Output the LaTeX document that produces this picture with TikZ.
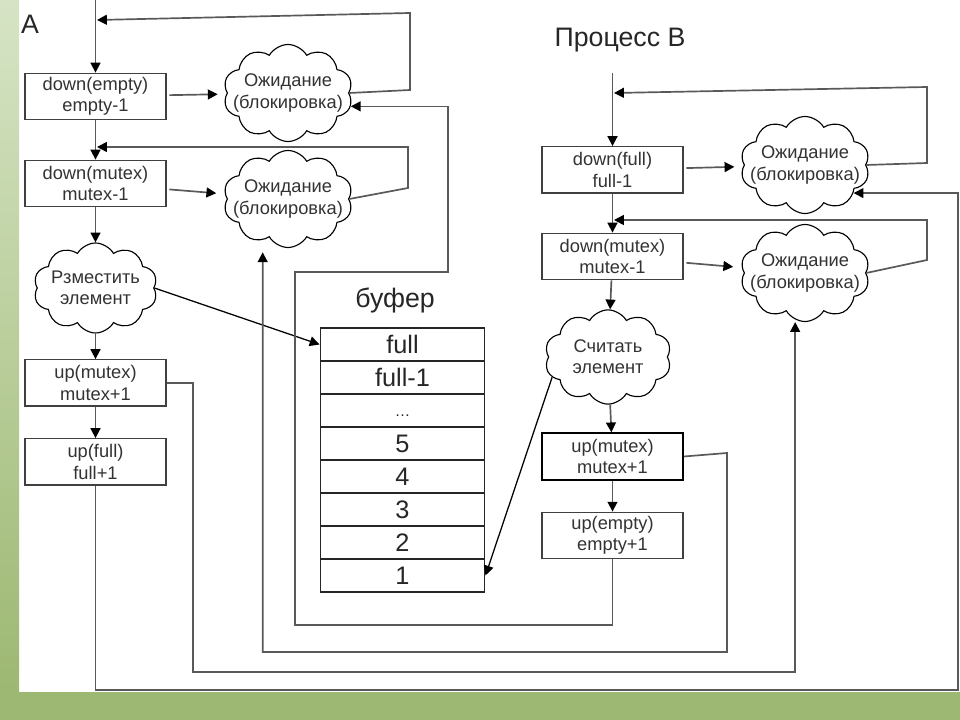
\documentclass[tikz,border=0pt]{standalone}
\usepackage{fontspec}
\setmainfont{Liberation Sans}
\usetikzlibrary{calc, shapes.symbols, arrows.meta}
\definecolor{paleleaf}{HTML}{D6E4C5}
\definecolor{leaf}{HTML}{9DB872}

\begin{document}
\begin{tikzpicture}[x=0.025cm, y=-0.025cm,
  box/.style={draw=black!75, line width=1pt, minimum width=100pt, minimum height=33pt,
    inner sep=1pt, align=center, text=black!80, font=\fontsize{13}{15}\selectfont},
  wait/.style={cloud, cloud puffs=10, cloud puff arc=120, cloud ignores aspect, draw,
    line width=0.8pt, inner xsep=-32pt, inner ysep=-10pt, minimum width=92pt,
    minimum height=69pt, align=center, text=black!80, font=\fontsize{13}{15}\selectfont},
  cell/.style={draw=black!85, line width=1pt, minimum width=117pt, minimum height=23.4pt,
    inner sep=0pt, text=black!85, font=\fontsize{18}{20}\selectfont},
  tip/.style={-{Triangle[length=7pt,width=7pt,color=black]}},
  fb/.style={draw=black!65, line width=1.2pt}]

\useasboundingbox (0,0) rectangle (960,720);
\fill[white] (0,0) rectangle (960,720);
\fill[leaf] (0,692) rectangle (960,720);
\shade[top color=paleleaf, bottom color=leaf] (0,0) rectangle (19,692);

\node[font=\fontsize{19}{21}\selectfont, text=black!85] (hA) at (30,24) {A};
\node[font=\fontsize{19}{21}\selectfont, text=black!85] (hB) at (620,40) {Процесс B};
\node[font=\fontsize{19}{21}\selectfont, text=black!85] (hbuf) at (395,300) {буфер};

% process A
\node[box] (dnE) at (95.5,96.5) {down(empty)\\empty-1};
\node[wait] (waitE) at (288,93) {Ожидание\\(блокировка)};
\node[box] (dnMa) at (95.5,183.5) {down(mutex)\\mutex-1};
\node[wait] (waitMa) at (288,199) {Ожидание\\(блокировка)};
\node[wait, minimum width=88pt, minimum height=64pt] (put) at (95.5,288) {Рзместить\\элемент};
\node[box] (upMa) at (95.5,383) {up(mutex)\\mutex+1};
\node[box] (upF) at (95.5,462) {up(full)\\full+1};

% buffer
\foreach \t [count=\i] in {full, full-1, {\raisebox{-4pt}[0pt][0pt]{\fontsize{11}{11}\selectfont\dots}}, 5, 4, 3, 2, 1}
  \node[cell] (r\i) at (402.5,311.5+33*\i) {\t};

% process B
\node[box] (dnF) at (612.5,170) {down(full)\\full-1};
\node[wait] (waitF) at (805,165) {Ожидание\\(блокировка)};
\node[box] (dnMb) at (612.5,256.5) {down(mutex)\\mutex-1};
\node[wait] (waitMb) at (805,273) {Ожидание\\(блокировка)};
\node[wait, minimum width=90pt, minimum height=67pt] (get) at (608,357) {Считать\\элемент};
\node[box, draw=black, line width=1.4pt] (upMb) at (612.5,456.5) {up(mutex)\\mutex+1};
\node[box] (upE) at (612.5,535.5) {up(empty)\\empty+1};

\coordinate (inA) at (95.5,0);
\coordinate (joinE) at (97,20);
\coordinate (joinMa) at (97,147);
\coordinate (inB) at (612.5,73);
\coordinate (joinF) at (614,93);
\coordinate (joinMb) at (614,220);

\draw[fb, tip] (inA) -- (dnE);
\draw[fb, tip] (dnE) -- (dnMa);
\draw[fb, tip] (dnMa) -- (put);
\draw[fb, tip] (put) -- (upMa);
\draw[fb, tip] (upMa) -- (upF);
\draw[fb, tip, shorten <=2pt, shorten >=6pt] (dnE) -- (waitE);
\draw[fb, tip, shorten <=2pt, shorten >=6pt] (dnMa) -- (waitMa);
\draw[fb, tip] (waitE.east) -- (410,90) -- (410,13) -- (joinE);
\draw[fb, tip] (waitMa.east) -- (408,188) -- (408,147) -- (joinMa);

\draw[fb, tip] (inB) -- (dnF);
\draw[fb, tip] (dnF) -- (dnMb);
\draw[fb, tip] (dnMb) -- (get);
\draw[fb, tip] (get) -- (upMb);
\draw[fb, tip] (upMb) -- (upE);
\draw[fb, tip, shorten <=2pt, shorten >=6pt] (dnF) -- (waitF);
\draw[fb, tip, shorten <=2pt, shorten >=6pt] (dnMb) -- (waitMb);
\draw[fb, tip] (waitF.east) -- (927,163) -- (927,87) -- (joinF);
\draw[fb, tip] (waitMb.east) -- (927,260) -- (927,220) -- (joinMb);

\draw[tip, line width=0.9pt] (put.east) -- (r1.west);
\draw[tip, line width=0.9pt] (get.200) -- (r8.east);

\draw[fb, tip] (upMa.east) -| (193,672) -| ([xshift=-7pt]waitMb.south);
\draw[fb, tip] (upF) |- (958,690) |- (waitF.-30);
\draw[fb, tip, shorten >=3pt] (upMb.east) -- (727,453) -- (727,652) -| ([xshift=-18pt]waitMa.south);
\draw[fb, tip] (upE) |- (295,625) |- (448,272) |- (waitE.-12);

\end{tikzpicture}
\end{document}
